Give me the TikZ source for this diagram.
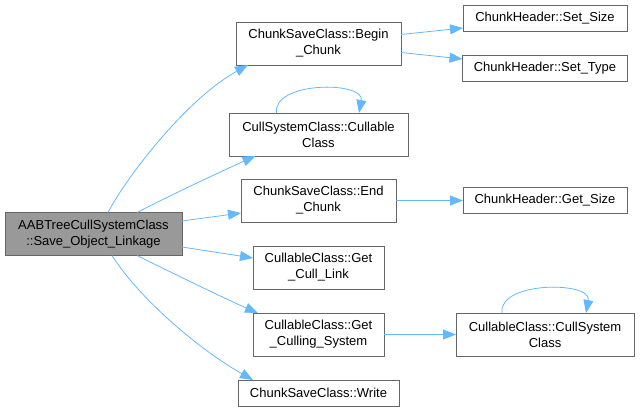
\documentclass[tikz,border=0pt]{standalone}
\usepackage{fontspec}
\setmainfont{Liberation Sans}
\usepackage{tikz}
\usetikzlibrary{arrows.meta,positioning}
\tikzset{
  fnbox/.style={draw=boxline, fill=white, align=center, minimum width=#1,
                minimum height=26pt, inner sep=2pt, outer sep=0pt,
                line width=0.8pt, font=\fontsize{13}{16}\selectfont},
  fnbox/.default=160pt,
  twobox/.style={fnbox=#1, minimum height=43pt},
  rootbox/.style={twobox=177pt, fill=rootgray},
  arr/.style={-{Triangle[length=13pt,width=10pt]}, draw=edgeblue,
              line width=0.8pt},
}
\definecolor{edgeblue}{RGB}{99,184,255}
\definecolor{rootgray}{RGB}{153,153,153}
\definecolor{boxline}{RGB}{102,102,102}

\begin{document}
\begin{tikzpicture}[x=1pt, y=-1pt]
  \useasboundingbox (0,0) rectangle (640,412);

  \node[rootbox] (root) at (93.5,234)
        {AABTreeCullSystemClass\\::Save\_Object\_Linkage};

  \node[twobox=165pt] (begin) at (318.5,43.5) {ChunkSaveClass::Begin\\\_Chunk};
  \node[twobox=179pt, below=48pt of begin] (cull)
        {CullSystemClass::Cullable\\Class};
  \node[twobox=155pt, below=23pt of cull] (endc) {ChunkSaveClass::End\\\_Chunk};
  \node[twobox=131pt, below=24pt of endc] (link) {CullableClass::Get\\\_Cull\_Link};
  \node[twobox=131pt, below=24pt of link] (culling)
        {CullableClass::Get\\\_Culling\_System};
  \node[fnbox=161pt, below=24pt of culling] (write) {ChunkSaveClass::Write};

  \node[fnbox=164pt] (setsize) at (545,18.5) {ChunkHeader::Set\_Size};
  \node[fnbox=165pt, below=24pt of setsize] (settype) {ChunkHeader::Set\_Type};
  \node[fnbox=164pt, right=67pt of endc] (getsize) {ChunkHeader::Get\_Size};
  \node[twobox=178pt, right=72pt of culling] (cullsys)
        {CullableClass::CullSystem\\Class};

  \draw[arr] ([xshift=14.5pt]root.north) .. controls +(17,-33) and +(-63,35)
             .. ([xshift=-70.5pt]begin.south);
  \draw[arr] ([xshift=43.5pt]root.north) .. controls +(35,-18) and +(-40,18)
             .. ([xshift=-63pt]cull.south);
  \draw[arr] ([yshift=13pt]root.east) -- ([yshift=-12.5pt]endc.west);
  \draw[arr] ([yshift=-13pt]root.east) -- ([yshift=9.5pt]link.west);
  \draw[arr] ([xshift=43.5pt]root.south) .. controls +(30,15) and +(-28,-12)
             .. ([xshift=-60.5pt]culling.north);
  \draw[arr] ([xshift=18.5pt]root.south) .. controls +(28,44) and +(-53,-30)
             .. ([xshift=-65.5pt]write.north);

  \draw[arr] ([yshift=9pt]begin.east) -- ([yshift=-9.5pt]setsize.west);
  \draw[arr] ([yshift=-9pt]begin.east) -- ([yshift=9.5pt]settype.west);
  \draw[arr] (endc) -- (getsize);
  \draw[arr] (culling) -- (cullsys);

  \draw[arr] ([xshift=-42pt]cull.north) .. controls +(-4,-32) and +(6,-32)
             .. ([xshift=40.5pt]cull.north);
  \draw[arr] ([xshift=-43pt]cullsys.north) .. controls +(-4,-32) and +(6,-32)
             .. ([xshift=41pt]cullsys.north);
\end{tikzpicture}
\end{document}
